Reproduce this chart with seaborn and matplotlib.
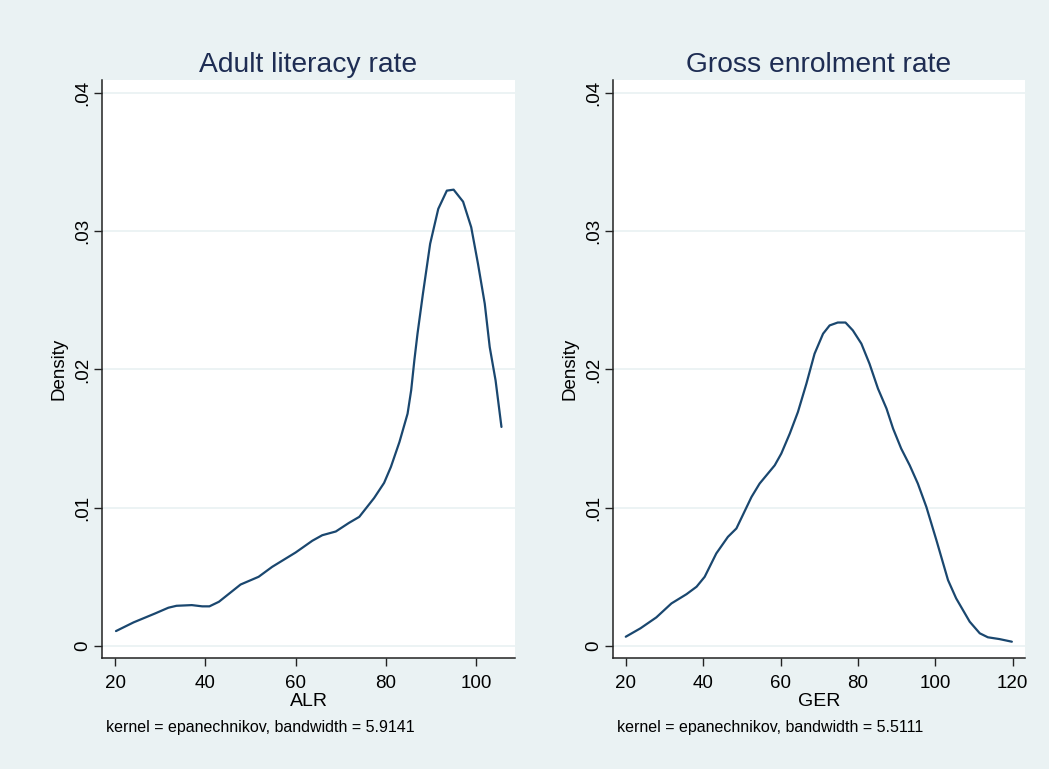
import matplotlib
matplotlib.use("Agg")
import matplotlib.pyplot as plt
import seaborn as sns
import pandas as pd

# Kernel density estimate of adult literacy rate (ALR)
alr_x = [20.2, 24.1, 28.9, 31.8, 33.6, 37.0, 39.3, 40.9, 43.0, 47.8, 51.8, 54.8,
         60.0, 63.7, 65.9, 68.9, 71.8, 74.1, 77.4, 79.6, 81.1, 83.0, 84.8, 85.6,
         86.3, 87.0, 88.2, 89.8, 91.6, 93.5, 95.0, 97.1, 98.9, 100.4, 101.9,
         103.0, 104.3, 105.6]
alr_density = [0.00106, 0.00169, 0.00234, 0.00275, 0.00289, 0.00294, 0.00285,
               0.00285, 0.00318, 0.00443, 0.00499, 0.00571, 0.00675, 0.00760,
               0.00800, 0.00827, 0.00889, 0.00933, 0.01070, 0.01179, 0.01294,
               0.01475, 0.01680, 0.01850, 0.02066, 0.02259, 0.02548, 0.02910,
               0.03163, 0.03295, 0.03302, 0.03215, 0.03030, 0.02765, 0.02476,
               0.02162, 0.01920, 0.01584]

# Kernel density estimate of gross enrolment rate (GER)
ger_x = [20.0, 23.8, 27.9, 31.8, 35.7, 38.3, 40.4, 43.4, 46.4, 48.6, 52.5, 54.6,
         58.5, 60.2, 62.4, 64.5, 66.7, 68.8, 71.0, 72.7, 74.8, 76.8, 78.7, 80.9,
         83.0, 85.2, 87.4, 89.1, 91.2, 93.4, 95.5, 97.7, 100.3, 103.3, 105.4,
         108.9, 111.5, 113.6, 116.6, 119.8]
ger_density = [0.00065, 0.00126, 0.00205, 0.00306, 0.00373, 0.00427, 0.00499,
               0.00668, 0.00788, 0.00849, 0.01077, 0.01174, 0.01306, 0.01391,
               0.01536, 0.01692, 0.01898, 0.02114, 0.02259, 0.02319, 0.02340,
               0.02340, 0.02283, 0.02187, 0.02042, 0.01861, 0.01717, 0.01572,
               0.01427, 0.01306, 0.01174, 0.01005, 0.00764, 0.00475, 0.00343,
               0.00174, 0.00090, 0.00061, 0.00048, 0.00029]

y_ticks = [0, 0.01, 0.02, 0.03, 0.04]
y_tick_labels = ["0", ".01", ".02", ".03", ".04"]
alr_ticks = [20, 40, 60, 80, 100]
ger_ticks = [20, 40, 60, 80, 100, 120]

panels = [
    dict(title="Adult literacy rate", xlabel="ALR", x=alr_x, y=alr_density,
         ticks=alr_ticks, xlim=(17.1, 108.6),
         note="kernel = epanechnikov, bandwidth = 5.9141"),
    dict(title="Gross enrolment rate", xlabel="GER", x=ger_x, y=ger_density,
         ticks=ger_ticks, xlim=(16.7, 123.2),
         note="kernel = epanechnikov, bandwidth = 5.5111"),
]

sns.set_theme(style="white")
plt.rcParams["font.family"] = ["Liberation Sans", "DejaVu Sans"]

BG = "#EAF2F3"
LINE = "#1A476F"
TITLE = "#1E2D53"
W, H = 1049, 769

fig = plt.figure(figsize=(W / 100, H / 100), dpi=100, facecolor=BG)

# axes boxes in pixels: (left, top, right, bottom)
boxes = [(102, 80, 515, 658), (613, 80, 1025, 658)]

for box, p in zip(boxes, panels):
    l, t, r, b = box
    ax = fig.add_axes([l / W, 1 - b / H, (r - l) / W, (b - t) / H])
    ax.set_facecolor("white")
    df = pd.DataFrame({"x": p["x"], "density": p["y"]})
    sns.lineplot(data=df, x="x", y="density", ax=ax, color=LINE, lw=1.6,
                 sort=False, estimator=None)
    ax.set_xlim(*p["xlim"])
    ax.set_ylim(-0.00089, 0.04096)
    ax.set_yticks(y_ticks)
    ax.set_yticklabels(y_tick_labels, rotation=90, va="center")
    ax.set_xticks(p["ticks"])
    ax.set_xticklabels([str(v) for v in p["ticks"]])
    for yv in y_ticks:
        ax.axhline(yv, color=BG, lw=1.3, zorder=0)
    for side in ("top", "right"):
        ax.spines[side].set_visible(False)
    for side in ("left", "bottom"):
        ax.spines[side].set_color("#222222")
        ax.spines[side].set_linewidth(1.1)
    ax.tick_params(axis="both", which="major", direction="out", length=6,
                   width=1.0, color="#222222", labelsize=13.5,
                   labelcolor="black", left=True, bottom=True)
    ax.tick_params(axis="y", pad=2)
    ax.tick_params(axis="x", pad=6)
    ax.set_title(p["title"], fontsize=20.3, color=TITLE, pad=6)
    ax.set_xlabel(p["xlabel"], fontsize=14, color="black", labelpad=0.7)
    ax.set_ylabel("Density", fontsize=13.5, color="black", labelpad=4.5)
    fig.text((l + 4) / W, 1 - 732 / H, p["note"], fontsize=11.5,
             ha="left", va="baseline", color="black")

fig.savefig("out.png", dpi=100, facecolor=BG)
